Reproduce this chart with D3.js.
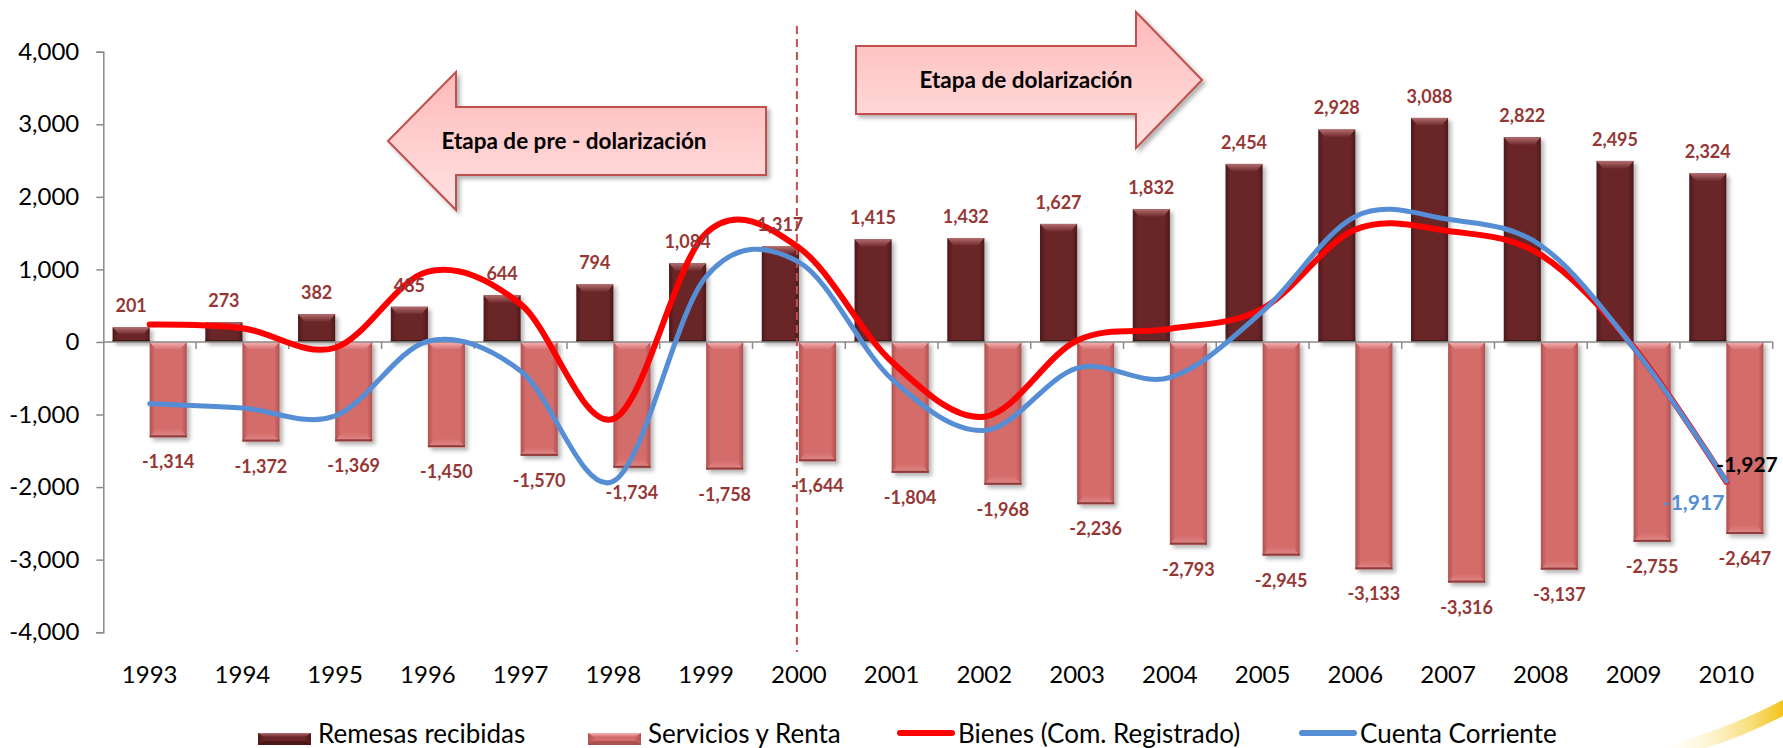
<!DOCTYPE html>
<html>
<head>
<meta charset="utf-8">
<script src="https://cdn.jsdelivr.net/npm/d3@7"></script>
<style>
  body { margin: 0; background: #fff; }
  svg { display: block; font-family: Lato, "Open Sans", sans-serif; }
</style>
</head>
<body>
<div id="chart"></div>
<script>
var width = 1783;
var height = 748;

// Data (millones US$)
var years = ["1993", "1994", "1995", "1996", "1997", "1998", "1999", "2000", "2001",
             "2002", "2003", "2004", "2005", "2006", "2007", "2008", "2009", "2010"];
var remesas = [201, 273, 382, 485, 644, 794, 1084, 1317, 1415, 1432, 1627, 1832, 2454, 2928, 3088, 2822, 2495, 2324];
var servicios = [-1314, -1372, -1369, -1450, -1570, -1734, -1758, -1644, -1804, -1968, -2236, -2793, -2945, -3133, -3316, -3137, -2755, -2647];
var bienes = [240, 190, -80, 970, 520, -1060, 1500, 1300, -270, -1030, 20, 180, 460, 1550, 1530, 1200, -70, -1927];
var cuenta = [-850, -910, -1020, 10, -400, -1920, 900, 1100, -510, -1220, -360, -490, 420, 1730, 1690, 1330, -80, -1917];
var yTicks = [-4000, -3000, -2000, -1000, 0, 1000, 2000, 3000, 4000];
var legendNames = ["Remesas recibidas", "Servicios y Renta", "Bienes (Com. Registrado)", "Cuenta Corriente"];

var fmt = d3.formatLocale({decimal: ".", thousands: ",", grouping: [3], currency: ["$", ""], minus: "-"}).format(",");

var svg = d3.select("#chart").append("svg")
    .attr("width", width)
    .attr("height", height);

var x = d3.scaleBand().domain(years).range([103.3, 1772.7]);
var xi = d3.scaleBand().domain(["rem", "serv"]).range([0, x.bandwidth()]).paddingOuter(0.25);
var y = d3.scaleLinear().domain([-4000, 4000]).range([632.2, 51.7]);

function cx(i) { return x(years[i]) + x.bandwidth() / 2; }

// gradients / filters
var defs = svg.append("defs");
function hGrad(id, edge, mid) {
    var g = defs.append("linearGradient").attr("id", id).attr("x1", 0).attr("x2", 1).attr("y1", 0).attr("y2", 0);
    g.append("stop").attr("offset", "0%").attr("stop-color", edge);
    g.append("stop").attr("offset", "14%").attr("stop-color", mid);
    g.append("stop").attr("offset", "86%").attr("stop-color", mid);
    g.append("stop").attr("offset", "100%").attr("stop-color", edge);
}
function vGrad(id, c1, c2) {
    var g = defs.append("linearGradient").attr("id", id).attr("x1", 0).attr("x2", 0).attr("y1", 0).attr("y2", 1);
    g.append("stop").attr("offset", "0%").attr("stop-color", c1);
    g.append("stop").attr("offset", "100%").attr("stop-color", c2);
}
hGrad("remBody", "#4c191a", "#6a2628");
vGrad("remTop", "#b36d6e", "#6a2628");
hGrad("servBody", "#b25150", "#d46c6b");
vGrad("servTop", "#f4b4b3", "#d46c6b");
vGrad("servBot", "#d46c6b", "#e08a89");
vGrad("arrowFill", "#ffb9b9", "#ffe2e2");

var shadow = defs.append("filter").attr("id", "shadow").attr("x", "-20%").attr("y", "-20%").attr("width", "150%").attr("height", "150%");
shadow.append("feDropShadow").attr("dx", 3).attr("dy", 3).attr("stdDeviation", 2)
    .attr("flood-color", "#000").attr("flood-opacity", 0.3);

// yellow swoosh bottom right (template decoration)
var sw = defs.append("linearGradient").attr("id", "swoosh").attr("x1", 0).attr("x2", 1).attr("y1", 0).attr("y2", 0);
sw.append("stop").attr("offset", "0%").attr("stop-color", "#fff8d8").attr("stop-opacity", 0);
sw.append("stop").attr("offset", "100%").attr("stop-color", "#f2c419");
svg.append("path")
    .attr("d", "M1660,748 Q1730,728 1783,700 L1783,716 Q1740,738 1705,748 Z")
    .attr("fill", "url(#swoosh)");

// annotation arrows
function arrowPath(pts) { return "M" + pts.map(function(p) { return p.join(","); }).join("L") + "Z"; }
var leftArrow = [[388, 141], [456, 72], [456, 107], [766, 107], [766, 175], [456, 175], [456, 210]];
var rightArrow = [[856, 46], [1136, 46], [1136, 12], [1202, 80], [1136, 148], [1136, 114], [856, 114]];
[leftArrow, rightArrow].forEach(function(a) {
    svg.append("path")
        .attr("d", arrowPath(a))
        .attr("fill", "url(#arrowFill)")
        .attr("stroke", "#c0504d")
        .attr("stroke-width", 2)
        .attr("filter", "url(#shadow)");
});
svg.append("text").attr("x", 574).attr("y", 141).attr("dy", "0.35em")
    .attr("text-anchor", "middle").attr("font-weight", "bold").attr("font-size", 22.5)
    .text("Etapa de pre - dolarización");
svg.append("text").attr("x", 1026).attr("y", 80).attr("dy", "0.35em")
    .attr("text-anchor", "middle").attr("font-weight", "bold").attr("font-size", 22.5)
    .text("Etapa de dolarización");

// bars with a bevel look
function drawBar(g, x0, w, v, kind) {
    var top = Math.min(y(v), y(0)), h = Math.abs(y(v) - y(0));
    var b = g.append("g").attr("filter", "url(#shadow)");
    b.append("rect").attr("x", x0).attr("y", top).attr("width", w).attr("height", h)
        .attr("fill", kind == "rem" ? "url(#remBody)" : "url(#servBody)");
    var bh = Math.min(8, h / 2), inset = 7;
    b.append("path")
        .attr("d", arrowPath([[x0, top], [x0 + w, top], [x0 + w - inset, top + bh], [x0 + inset, top + bh]]))
        .attr("fill", kind == "rem" ? "url(#remTop)" : "url(#servTop)");
    if (kind == "serv") {
        var bot = top + h;
        b.append("path")
            .attr("d", arrowPath([[x0 + inset, bot - 9], [x0 + w - inset, bot - 9], [x0 + w, bot], [x0, bot]]))
            .attr("fill", "url(#servBot)");
        b.append("rect").attr("x", x0).attr("y", bot - 2).attr("width", w).attr("height", 2).attr("fill", "#8e3c3b");
    } else {
        b.append("rect").attr("x", x0).attr("y", top + h - 2).attr("width", w).attr("height", 2).attr("fill", "#3e1314");
    }
}
var bars = svg.append("g");
years.forEach(function(yr, i) {
    drawBar(bars, x(yr) + xi("rem"), xi.bandwidth(), remesas[i], "rem");
    drawBar(bars, x(yr) + xi("serv"), xi.bandwidth(), servicios[i], "serv");
});

// axes
var yAxis = svg.append("g")
    .attr("transform", "translate(" + x.range()[0] + ",0)")
    .call(d3.axisLeft(y).tickValues(yTicks).tickSize(7).tickPadding(17).tickFormat(fmt));
yAxis.selectAll("text").attr("font-size", 24).attr("fill", "#000").attr("font-family", "Lato");
yAxis.selectAll("line, path").attr("stroke", "#8a8a8a").attr("stroke-width", 1.5);

var xAxisLine = svg.append("g");
xAxisLine.append("line")
    .attr("x1", x.range()[0]).attr("x2", x.range()[1])
    .attr("y1", y(0)).attr("y2", y(0))
    .attr("stroke", "#8a8a8a").attr("stroke-width", 1.5);
xAxisLine.selectAll("line.tick")
    .data(years.slice(1).concat(["end"]))
    .enter().append("line")
    .attr("class", "tick")
    .attr("x1", function(d) { return d == "end" ? x.range()[1] : x(d); })
    .attr("x2", function(d) { return d == "end" ? x.range()[1] : x(d); })
    .attr("y1", y(0)).attr("y2", y(0) + 7)
    .attr("stroke", "#8a8a8a").attr("stroke-width", 1.5);

var xAxis = svg.append("g")
    .attr("transform", "translate(0,683)")
    .call(d3.axisBottom(x).tickSize(0).tickPadding(0));
xAxis.select(".domain").remove();
xAxis.selectAll("text").attr("dy", 0).attr("font-size", 24).attr("fill", "#000").attr("font-family", "Lato");

// dashed divider at 2000
svg.append("line")
    .attr("x1", cx(7) - 2).attr("x2", cx(7) - 2)
    .attr("y1", 26).attr("y2", 652)
    .attr("stroke", "#c0504d").attr("stroke-width", 2)
    .attr("stroke-dasharray", "8,5");

// smoothed lines
var line = d3.line()
    .x(function(d, i) { return cx(i); })
    .y(function(d) { return y(d); })
    .curve(d3.curveCardinal.tension(0));
svg.append("path").datum(bienes)
    .attr("d", line).attr("fill", "none")
    .attr("stroke", "#ff0000").attr("stroke-width", 6).attr("stroke-linecap", "round");
svg.append("path").datum(cuenta)
    .attr("d", line).attr("fill", "none")
    .attr("stroke", "#558ed5").attr("stroke-width", 5).attr("stroke-linecap", "round");

// data labels
var labels = svg.append("g").attr("font-weight", "bold").attr("font-size", 18).attr("fill", "#953735").attr("text-anchor", "middle");
labels.selectAll("text.rem").data(remesas).enter().append("text")
    .attr("x", function(d, i) { return x(years[i]) + xi("rem") + xi.bandwidth() / 2; })
    .attr("y", function(d) { return y(d) - 15; })
    .text(fmt);
labels.selectAll("text.serv").data(servicios).enter().append("text")
    .attr("x", function(d, i) { return x(years[i]) + xi("serv") + xi.bandwidth() / 2; })
    .attr("y", function(d) { return y(d) + 31; })
    .text(fmt);

var last = years.length - 1;
svg.append("text")
    .attr("x", cx(last) - 10).attr("y", y(bienes[last]) - 10)
    .attr("font-weight", "bold").attr("font-size", 21).attr("fill", "#000")
    .text(fmt(bienes[last]));
svg.append("text")
    .attr("x", cx(last) - 2).attr("y", y(cuenta[last]) + 29)
    .attr("text-anchor", "end")
    .attr("font-weight", "bold").attr("font-size", 21).attr("fill", "#558ed5")
    .text(fmt(cuenta[last]));

// legend
var legendX = [258, 588, 898, 1300];
var legend = svg.append("g").attr("font-size", 26).attr("fill", "#000");
legendNames.forEach(function(name, i) {
    var g = legend.append("g").attr("transform", "translate(" + legendX[i] + ",0)");
    if (i < 2) {
        var kind = i == 0 ? "rem" : "serv";
        g.append("rect").attr("x", 0).attr("y", 733).attr("width", 53).attr("height", 12)
            .attr("fill", kind == "rem" ? "url(#remBody)" : "url(#servBody)");
        g.append("path").attr("d", arrowPath([[0, 733], [53, 733], [47, 737], [6, 737]]))
            .attr("fill", kind == "rem" ? "url(#remTop)" : "url(#servTop)");
        g.append("path").attr("d", arrowPath([[6, 741], [47, 741], [53, 745], [0, 745]]))
            .attr("fill", kind == "rem" ? "#3e1314" : "#9c4544").attr("opacity", 0.7);
    } else {
        g.append("line").attr("x1", 2).attr("x2", 54).attr("y1", 733).attr("y2", 733)
            .attr("stroke", i == 2 ? "#ff0000" : "#558ed5").attr("stroke-width", 6).attr("stroke-linecap", "round");
    }
    g.append("text").attr("x", 60).attr("y", 743).text(name);
});
</script>
</body>
</html>
